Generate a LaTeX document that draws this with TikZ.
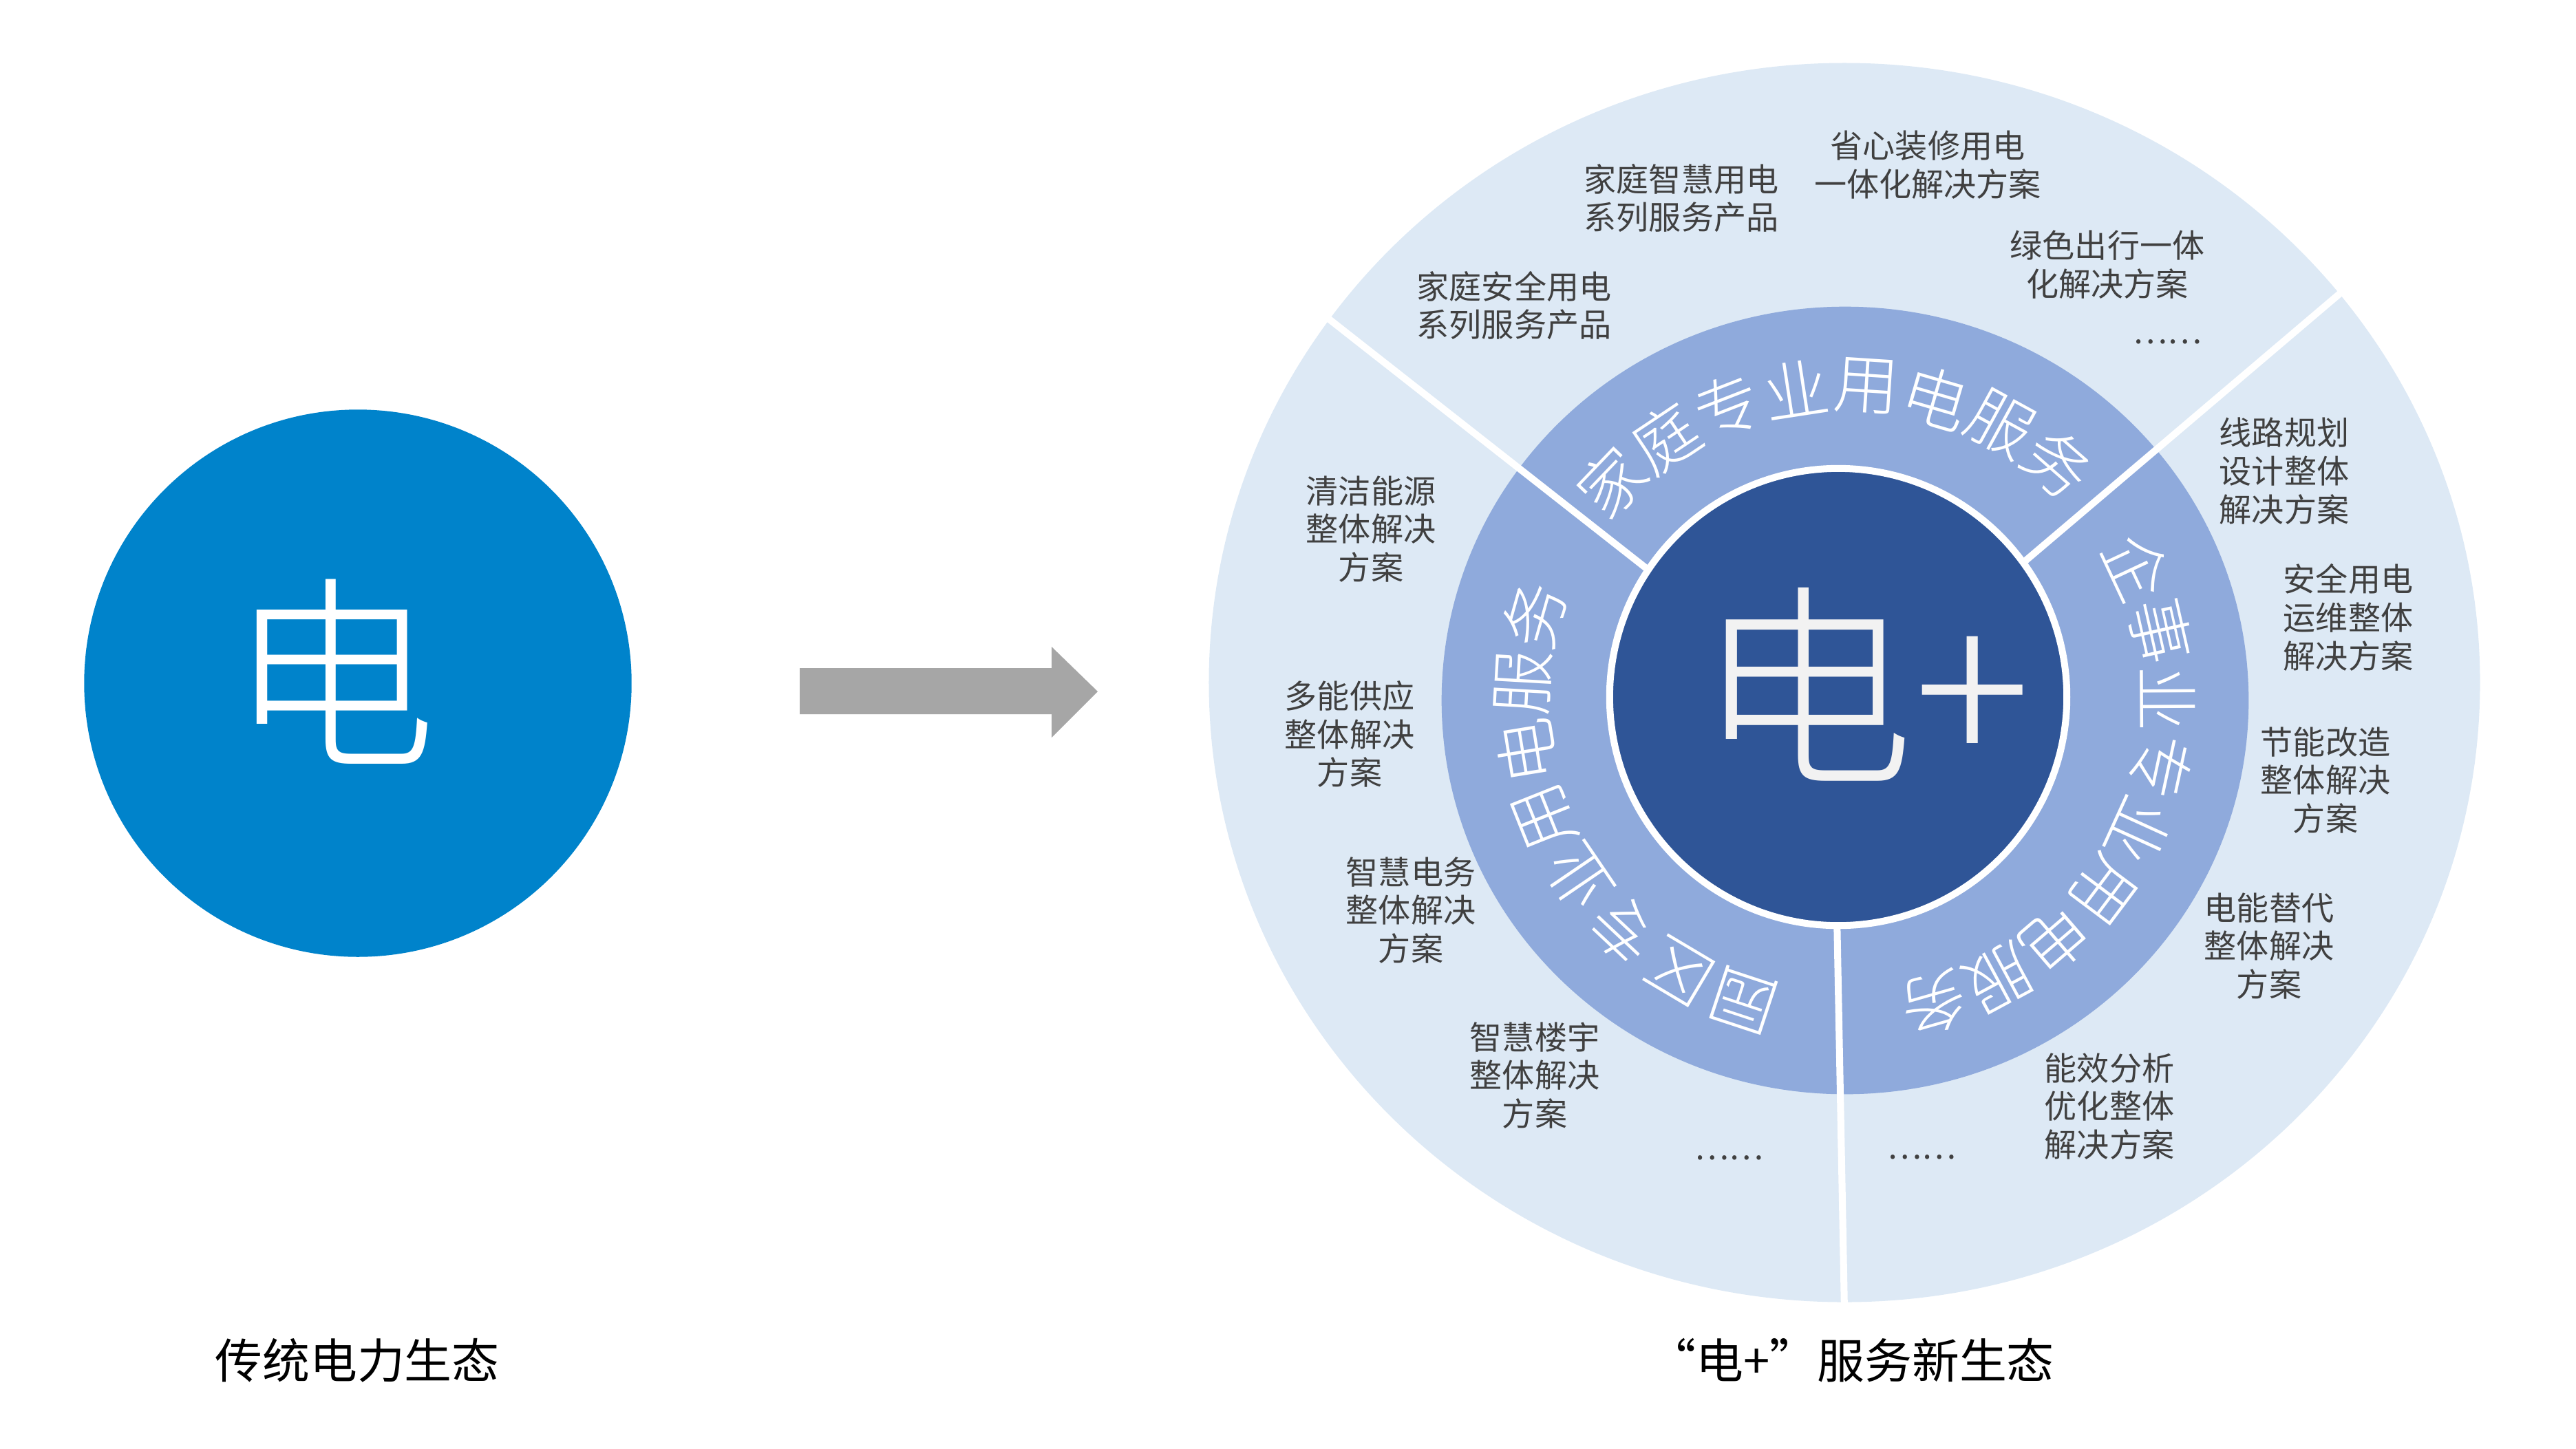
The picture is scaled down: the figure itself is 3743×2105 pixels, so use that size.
\documentclass[tikz,border=0pt]{standalone}
\usepackage{fontspec}
\setmainfont{Noto Sans CJK SC}
\newfontfamily\cjklight{Noto Sans CJK SC Light}
\usetikzlibrary{positioning}
\definecolor{ringout}{HTML}{DDE9F5}
\definecolor{ringmid}{HTML}{8FAADC}
\definecolor{ringcore}{HTML}{2F5597}
\definecolor{oldblue}{HTML}{0083CB}
\definecolor{labelgray}{HTML}{404040}
\definecolor{arrowgray}{HTML}{A6A6A6}
\definecolor{coretext}{HTML}{F2F2F2}
\begin{document}
\begin{tikzpicture}[%
                x=0.01cm, y=-0.01cm,
                mylabel/.style={text=labelgray, align=center, inner sep=0pt,
                    font=\fontsize{13.4pt}{15.9pt}\selectfont},
                mytitle/.style={inner sep=0pt, font=\fontsize{19.6pt}{23pt}\selectfont},
                myring/.style={text=white, inner sep=0pt, font=\cjklight\fontsize{27pt}{27pt}\selectfont},
                mydivider/.style={draw=white, line width=2.85pt}
        ]
            \useasboundingbox (0,0) rectangle (3743,2105);
            % traditional side
            \node [circle, fill=oldblue, minimum size=7.95cm, inner sep=0pt] (old) at (520,993) {};
            \node [text=white, inner sep=0pt, font=\cjklight\fontsize{86pt}{86pt}\selectfont] (oldchar) at (484,976) {电};
            \node [mytitle] (oldtitle) at (519,1977) {传统电力生态};
            \fill [arrowgray] (1162,971) -- (1528,971) -- (1528,940) -- (1595,1005)
                -- (1528,1072) -- (1528,1038) -- (1162,1038) -- cycle;
            % rings
            \coordinate (outc) at (2680,992);
            \coordinate (midc) at (2681,1018);
            \fill [ringout] (outc) ellipse [x radius=9.23cm, y radius=9cm];
            \fill [ringmid] (midc) ellipse [x radius=5.86cm, y radius=5.72cm];
            \draw [mydivider] (1925,459) -- (2410,840);
            \draw [mydivider] (3410,418) -- (2930,826);
            \draw [mydivider] (2669,1330) -- (2680,1905);
            \node [circle, fill=ringcore, draw=white, line width=2.85pt, minimum size=6.64cm, inner sep=0pt] (core) at (2671,1013) {};
            \node [text=coretext, inner sep=0pt, font=\cjklight\fontsize{90pt}{90pt}\selectfont] (corechar) at (2708,995) {电+};
            \foreach \c [count=\i from 0] in {家,庭,专,业,用,电,服,务} {
                \pgfmathsetmacro\a{136.25-12.5*\i}
                \node [myring, rotate=\a-90] (home\i) at ([shift={(\a:4.69cm and 4.58cm)}] midc) {\c};
            }
            \foreach \c [count=\i from 0] in {园,区,专,业,用,电,服,务} {
                \pgfmathsetmacro\a{251.75-12.5*\i}
                \node [myring, rotate=\a-90] (park\i) at ([shift={(\a:4.69cm and 4.58cm)}] midc) {\c};
            }
            \foreach \c [count=\i from 0] in {企,事,业,专,业,用,电,服,务} {
                \pgfmathsetmacro\a{25.1-12.4*\i}
                \node [myring, rotate=\a-90] (firm\i) at ([shift={(\a:4.69cm and 4.58cm)}] midc) {\c};
            }
            % home
            \node [mylabel] (homea) at (2443,288) {家庭智慧用电\\系列服务产品};
            \node [mylabel] (homeb) at (2801,240) {省心装修用电\\一体化解决方案};
            \node [mylabel] (homec) at (3062,385) {绿色出行一体\\化解决方案};
            \node [mylabel, anchor=east] (homed) at (3200,497) {……};
            \node [mylabel] (homee) at (2200,444) {家庭安全用电\\系列服务产品};
            % park
            \node [mylabel] (parka) at (1992,769) {清洁能源\\整体解决\\方案};
            \node [mylabel] (parkb) at (1961,1067) {多能供应\\整体解决\\方案};
            \node [mylabel] (parkc) at (2050,1323) {智慧电务\\整体解决\\方案};
            \node [mylabel] (parkd) at (2230,1563) {智慧楼宇\\整体解决\\方案};
            \node [mylabel] (parke) at (2512,1683) {……};
            % firm
            \node [mylabel] (firma) at (3319,685) {线路规划\\设计整体\\解决方案};
            \node [mylabel] (firmb) at (3412,897) {安全用电\\运维整体\\解决方案};
            \node [mylabel] (firmc) at (3379,1134) {节能改造\\整体解决\\方案};
            \node [mylabel] (firmd) at (3297,1375) {电能替代\\整体解决\\方案};
            \node [mylabel] (firme) at (3065,1608) {能效分析\\优化整体\\解决方案};
            \node [mylabel] (firmf) at (2792,1682) {……};
            \node [mytitle] (newtitle) at (2690,1977) {“电+”服务新生态};
        \end{tikzpicture}
\end{document}
